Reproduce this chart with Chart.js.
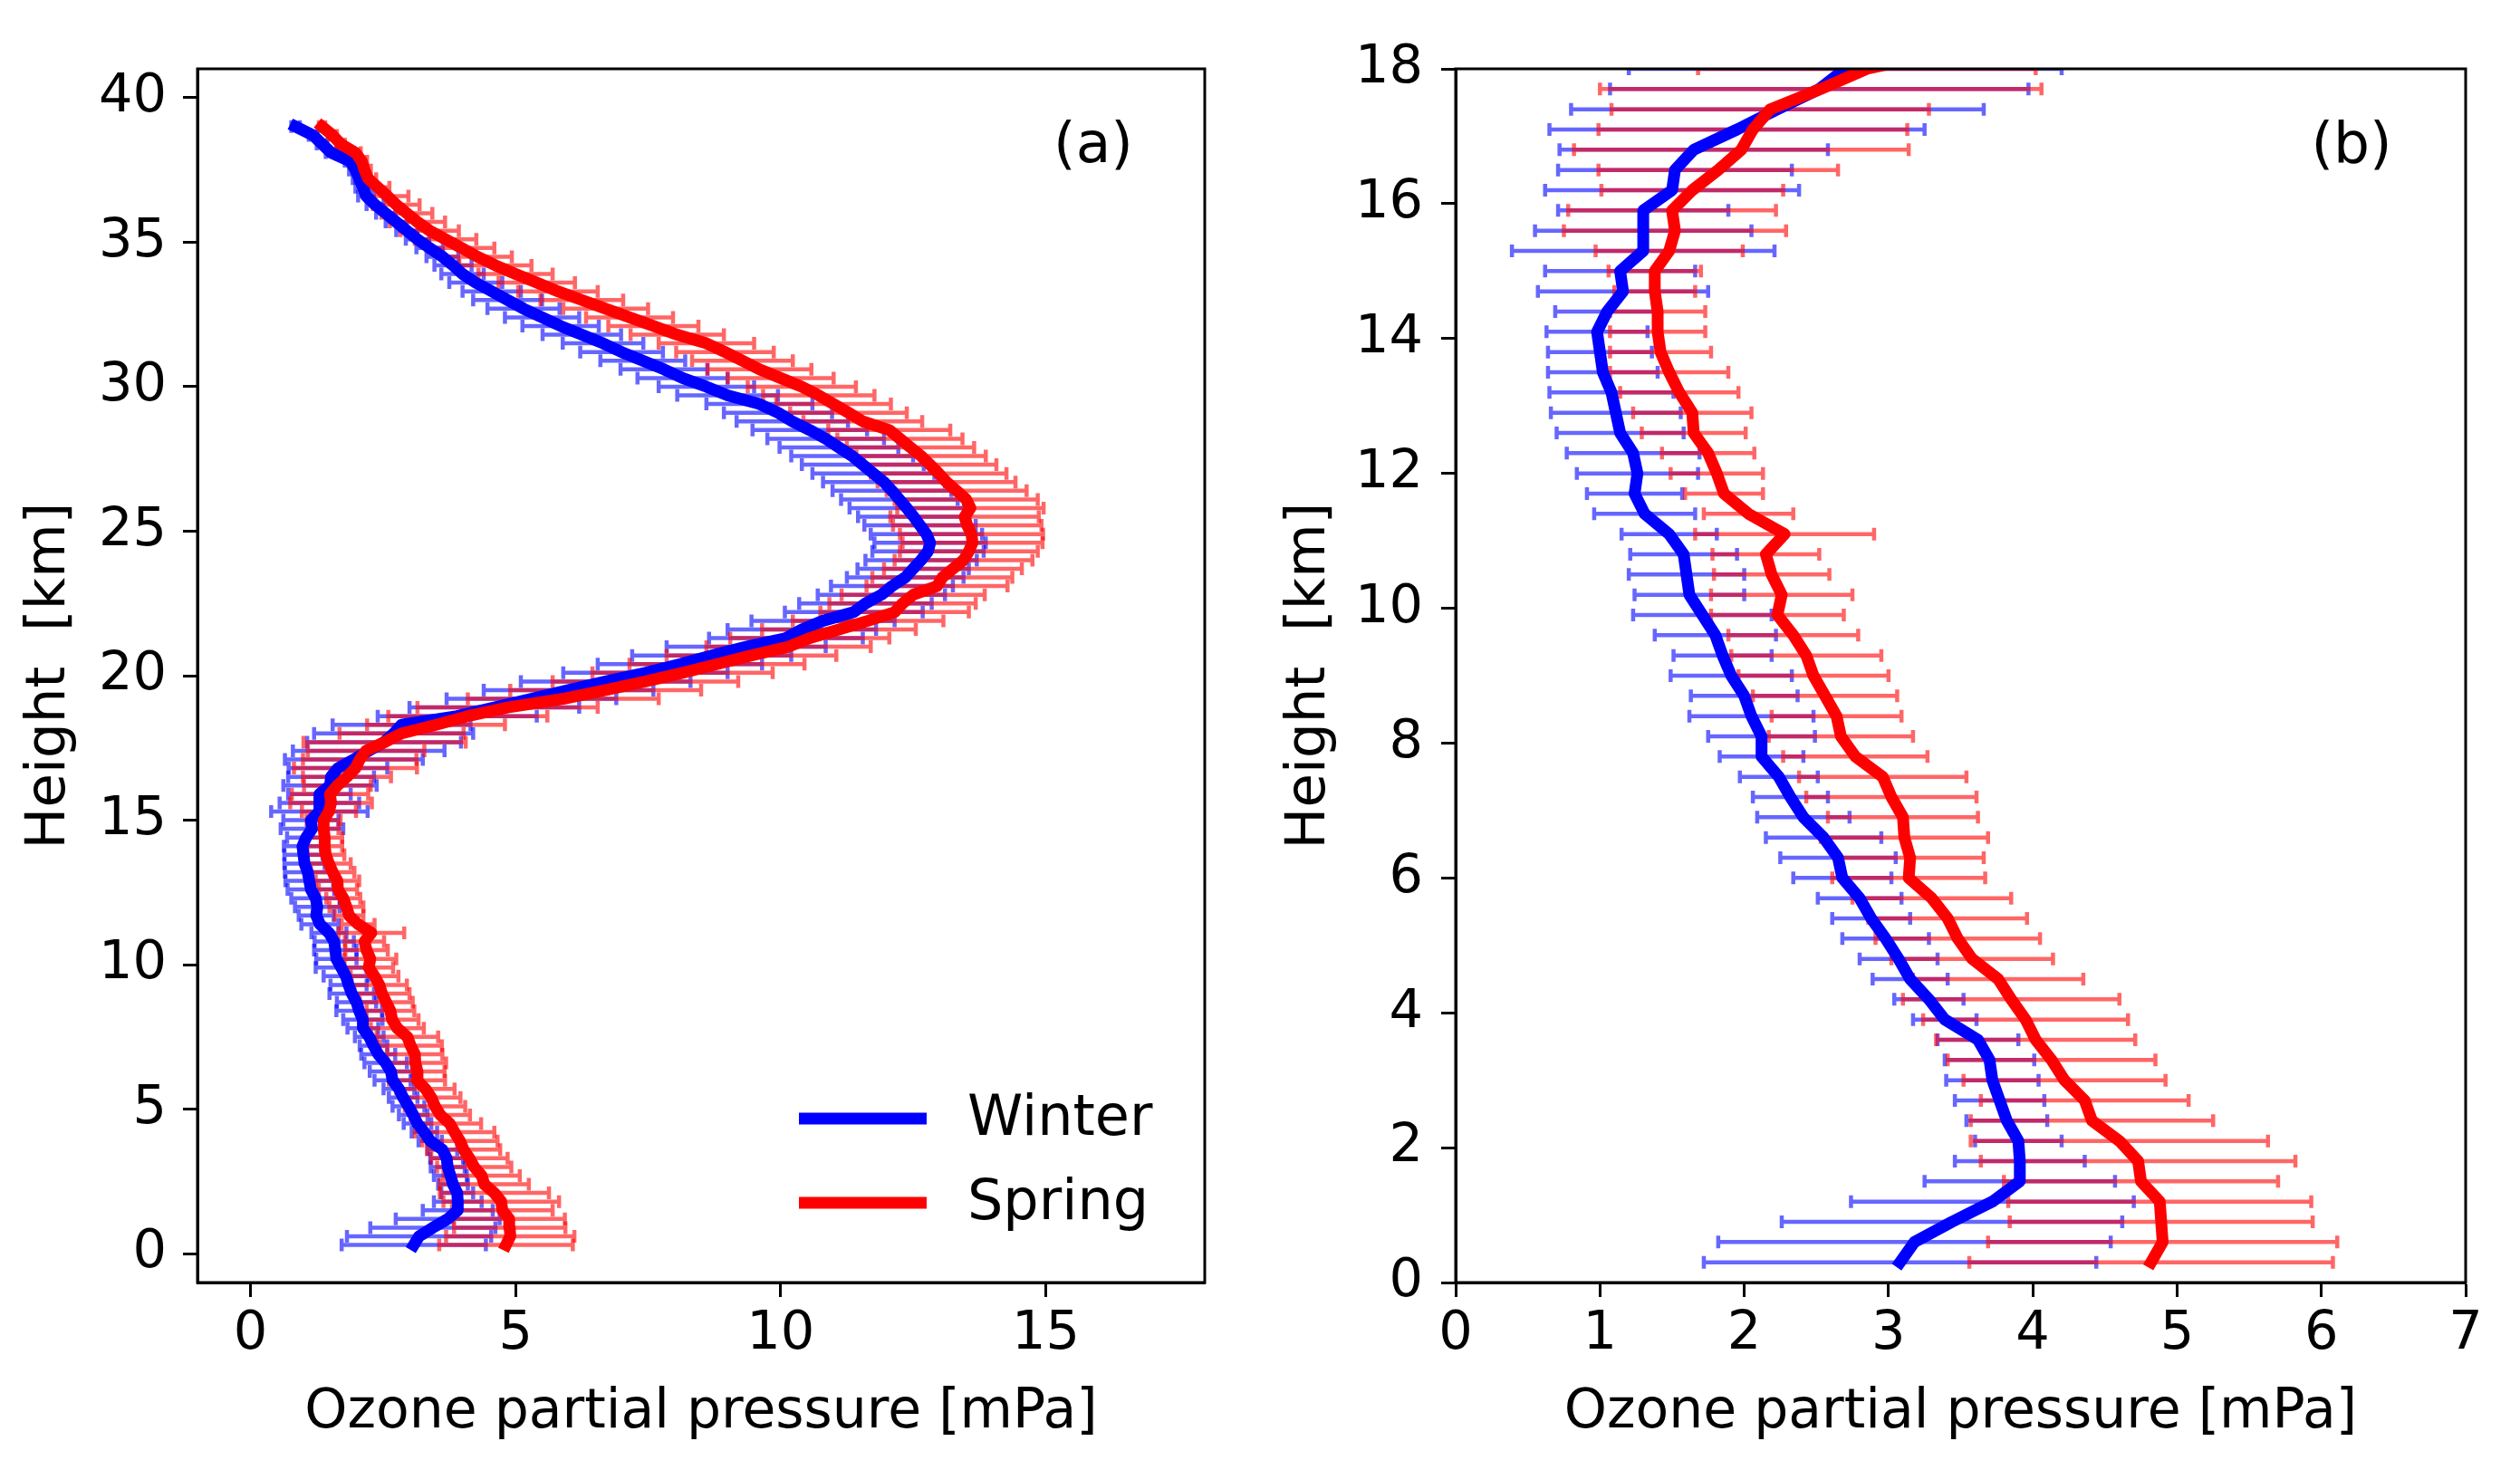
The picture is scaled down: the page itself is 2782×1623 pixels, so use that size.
<!DOCTYPE html>
<html>
<head>
<meta charset="utf-8">
<script src="https://cdn.jsdelivr.net/npm/chart.js@4.4.0/dist/chart.umd.min.js"></script>
<style>
  html, body { margin: 0; padding: 0; background: #fff; }
  #wrap { position: relative; width: 2782px; height: 1623px; background: #fff; }
  #wrap canvas { position: absolute; top: 0; }
</style>
</head>
<body>
<div id="wrap">
  <canvas id="chartA" width="1391" height="1623" style="left:0px"></canvas>
  <canvas id="chartB" width="1391" height="1623" style="left:1391px"></canvas>
</div>
<script>
// heights of the profile levels [km]
const heights = [
  0.3, 0.6, 0.9, 1.2, 1.5, 1.8, 2.1, 2.4, 2.7, 3.0,
  3.3, 3.6, 3.9, 4.2, 4.5, 4.8, 5.1, 5.4, 5.7, 6.0,
  6.3, 6.6, 6.9, 7.2, 7.5, 7.8, 8.1, 8.4, 8.7, 9.0,
  9.3, 9.6, 9.9, 10.2, 10.5, 10.8, 11.1, 11.4, 11.7, 12.0,
  12.3, 12.6, 12.9, 13.2, 13.5, 13.8, 14.1, 14.4, 14.7, 15.0,
  15.3, 15.6, 15.9, 16.2, 16.5, 16.8, 17.1, 17.4, 17.7, 18.0,
  18.3, 18.6, 18.9, 19.2, 19.5, 19.8, 20.1, 20.4, 20.7, 21.0,
  21.3, 21.6, 21.9, 22.2, 22.5, 22.8, 23.1, 23.4, 23.7, 24.0,
  24.3, 24.6, 24.9, 25.2, 25.5, 25.8, 26.1, 26.4, 26.7, 27.0,
  27.3, 27.6, 27.9, 28.2, 28.5, 28.8, 29.1, 29.4, 29.7, 30.0,
  30.3, 30.6, 30.9, 31.2, 31.5, 31.8, 32.1, 32.4, 32.7, 33.0,
  33.3, 33.6, 33.9, 34.2, 34.5, 34.8, 35.1, 35.4, 35.7, 36.0,
  36.3, 36.6, 36.9, 37.2, 37.5, 37.8, 38.1, 38.4, 38.7, 39.0
];

// winter mean ozone partial pressure [mPa]
const winterMean = [
  3.08, 3.18, 3.44, 3.72, 3.91, 3.91, 3.90, 3.82, 3.77, 3.72,
  3.70, 3.62, 3.39, 3.28, 3.15, 3.07, 2.98, 2.88, 2.80, 2.68,
  2.65, 2.55, 2.41, 2.32, 2.24, 2.12, 2.12, 2.05, 2.00, 1.91,
  1.85, 1.80, 1.71, 1.62, 1.60, 1.58, 1.48, 1.31, 1.24, 1.26,
  1.23, 1.14, 1.11, 1.08, 1.02, 1.00, 0.98, 1.05, 1.16, 1.14,
  1.30, 1.30, 1.30, 1.50, 1.52, 1.65, 1.95, 2.23, 2.52, 2.70,
  2.85, 3.90, 4.60, 5.30, 6.00, 6.70, 7.45, 8.10, 8.70, 9.35,
  10.10, 10.40, 10.80, 11.38, 11.60, 11.90, 12.10, 12.35, 12.50, 12.65,
  12.78, 12.82, 12.75, 12.63, 12.51, 12.38, 12.24, 12.10, 11.95, 11.75,
  11.55, 11.35, 11.10, 10.85, 10.55, 10.22, 9.95, 9.60, 9.00, 8.60,
  8.15, 7.80, 7.40, 7.00, 6.65, 6.25, 5.85, 5.50, 5.15, 4.85,
  4.55, 4.25, 4.00, 3.82, 3.62, 3.38, 3.15, 2.95, 2.75, 2.55,
  2.35, 2.18, 2.12, 2.05, 1.98, 1.88, 1.52, 1.35, 1.18, 0.85
];

// winter standard deviation [mPa]
const winterSd = [
  1.36, 1.36, 1.18, 0.98, 0.66, 0.45, 0.30, 0.28, 0.31, 0.32,
  0.31, 0.28, 0.22, 0.24, 0.26, 0.27, 0.30, 0.27, 0.29, 0.34,
  0.40, 0.40, 0.32, 0.26, 0.27, 0.29, 0.37, 0.43, 0.37, 0.42,
  0.34, 0.42, 0.48, 0.38, 0.40, 0.37, 0.33, 0.35, 0.33, 0.42,
  0.46, 0.44, 0.45, 0.43, 0.38, 0.36, 0.35, 0.36, 0.59, 0.52,
  0.91, 0.75, 0.59, 0.88, 0.81, 0.93, 1.30, 1.43, 1.45, 1.50,
  1.30, 1.50, 1.60, 1.60, 1.60, 1.60, 1.55, 1.55, 1.50, 1.50,
  1.45, 1.40, 1.35, 1.30, 1.25, 1.20, 1.15, 1.10, 1.05, 1.05,
  1.05, 1.05, 1.05, 1.05, 1.05, 1.08, 1.10, 1.12, 1.15, 1.15,
  1.15, 1.15, 1.12, 1.10, 1.08, 1.05, 1.02, 1.00, 0.95, 0.90,
  0.85, 0.82, 0.80, 0.78, 0.76, 0.74, 0.72, 0.70, 0.68, 0.65,
  0.55, 0.50, 0.40, 0.35, 0.30, 0.25, 0.22, 0.20, 0.20, 0.18,
  0.16, 0.15, 0.14, 0.12, 0.12, 0.10, 0.10, 0.10, 0.08, 0.08
];

// spring mean ozone partial pressure [mPa]
const springMean = [
  4.82, 4.90, 4.89, 4.88, 4.75, 4.73, 4.60, 4.41, 4.36, 4.22,
  4.13, 4.02, 3.95, 3.85, 3.76, 3.58, 3.48, 3.41, 3.30, 3.14,
  3.15, 3.11, 3.10, 3.02, 2.96, 2.77, 2.67, 2.64, 2.56, 2.48,
  2.43, 2.34, 2.23, 2.26, 2.19, 2.15, 2.28, 2.03, 1.86, 1.81,
  1.75, 1.65, 1.64, 1.55, 1.48, 1.42, 1.40, 1.40, 1.38, 1.38,
  1.48, 1.52, 1.50, 1.64, 1.82, 1.98, 2.06, 2.18, 2.53, 2.85,
  3.50, 4.10, 4.85, 5.90, 6.70, 7.45, 8.15, 8.80, 9.45, 10.15,
  10.55, 11.10, 11.65, 12.15, 12.30, 12.50, 12.95, 13.05, 13.25, 13.45,
  13.55, 13.62, 13.60, 13.52, 13.47, 13.58, 13.50, 13.32, 13.13, 12.98,
  12.82, 12.65, 12.45, 12.25, 12.05, 11.55, 11.28, 11.00, 10.72, 10.40,
  10.00, 9.60, 9.28, 8.95, 8.60, 8.05, 7.60, 7.15, 6.70, 6.25,
  5.80, 5.40, 5.00, 4.62, 4.28, 3.98, 3.68, 3.38, 3.15, 2.95,
  2.75, 2.58, 2.40, 2.22, 2.15, 2.10, 1.98, 1.70, 1.55, 1.35
];

// spring standard deviation [mPa]
const springSd = [
  1.26, 1.21, 1.05, 1.05, 0.95, 1.09, 1.03, 0.84, 0.72, 0.70,
  0.72, 0.69, 0.71, 0.75, 0.59, 0.56, 0.57, 0.55, 0.55, 0.53,
  0.51, 0.58, 0.52, 0.59, 0.58, 0.50, 0.50, 0.45, 0.50, 0.52,
  0.52, 0.45, 0.46, 0.49, 0.40, 0.37, 0.62, 0.31, 0.27, 0.32,
  0.32, 0.36, 0.41, 0.41, 0.41, 0.35, 0.33, 0.33, 0.28, 0.32,
  0.51, 0.77, 0.72, 0.63, 0.83, 1.16, 1.07, 1.10, 1.53, 1.17,
  1.30, 1.50, 1.70, 1.80, 1.80, 1.75, 1.70, 1.65, 1.60, 1.55,
  1.50, 1.45, 1.42, 1.40, 1.38, 1.35, 1.33, 1.32, 1.30, 1.30,
  1.30, 1.32, 1.35, 1.40, 1.40, 1.38, 1.35, 1.32, 1.30, 1.28,
  1.25, 1.22, 1.20, 1.18, 1.15, 1.12, 1.10, 1.08, 1.05, 1.02,
  1.00, 0.98, 0.95, 0.92, 0.90, 0.88, 0.85, 0.82, 0.80, 0.78,
  0.75, 0.72, 0.70, 0.68, 0.65, 0.62, 0.58, 0.55, 0.52, 0.48,
  0.44, 0.40, 0.22, 0.15, 0.12, 0.10, 0.10, 0.08, 0.08, 0.06
];

const seriesNames = ['Winter', 'Spring'];
const xTicksA = [0, 5, 10, 15];
const yTicksA = [0, 5, 10, 15, 20, 25, 30, 35, 40];
const xTicksB = [0, 1, 2, 3, 4, 5, 6, 7];
const yTicksB = [0, 2, 4, 6, 8, 10, 12, 14, 16, 18];
const xTitle = 'Ozone partial pressure [mPa]';
const yTitle = 'Height  [km]';

const FONT = "'DejaVu Sans', 'Liberation Sans', sans-serif";

function profile(means) {
  return heights.map((h, i) => ({ x: means[i], y: h }));
}

// horizontal error bars with caps, drawn under the mean profiles
const errorBars = {
  id: 'errorBars',
  beforeDatasetsDraw(chart) {
    const { ctx, chartArea: a } = chart;
    const xs = chart.scales.x, ys = chart.scales.y;
    ctx.save();
    ctx.beginPath();
    ctx.rect(a.left, a.top, a.right - a.left, a.bottom - a.top);
    ctx.clip();
    ctx.lineWidth = 4.5;
    ctx.lineCap = 'butt';
    chart.data.datasets.forEach(ds => {
      ctx.strokeStyle = ds.barColor;
      ds.errors.forEach((s, i) => {
        const py = ys.getPixelForValue(ds.data[i].y);
        const x1 = xs.getPixelForValue(ds.data[i].x - s);
        const x2 = xs.getPixelForValue(ds.data[i].x + s);
        ctx.beginPath();
        ctx.moveTo(x1, py); ctx.lineTo(x2, py);
        ctx.moveTo(x1, py - 7); ctx.lineTo(x1, py + 7);
        ctx.moveTo(x2, py - 7); ctx.lineTo(x2, py + 7);
        ctx.stroke();
      });
    });
    ctx.restore();
  }
};

// box, panel letter and legend
const decorations = {
  id: 'decorations',
  afterDraw(chart, args, opts) {
    const { ctx, chartArea: a } = chart;
    ctx.save();
    ctx.strokeStyle = '#000';
    ctx.lineWidth = 3;
    ctx.strokeRect(a.left, a.top, a.right - a.left, a.bottom - a.top);

    ctx.fillStyle = '#000';
    ctx.font = '63px ' + FONT;
    ctx.textAlign = 'center';
    ctx.textBaseline = 'middle';
    ctx.fillText(opts.panel, a.right - opts.panelDx, a.top + 87);

    if (opts.legend) {
      ctx.textAlign = 'left';
      ctx.font = '62px ' + FONT;
      chart.data.datasets.forEach((ds, i) => {
        const ly = a.bottom - 181 + i * 93;
        ctx.strokeStyle = ds.borderColor;
        ctx.lineWidth = 13;
        ctx.lineCap = 'butt';
        ctx.beginPath();
        ctx.moveTo(a.right - 448, ly);
        ctx.lineTo(a.right - 307, ly);
        ctx.stroke();
        ctx.fillStyle = '#000';
        ctx.fillText(ds.label, a.right - 262, ly + 2);
      });
    }
    ctx.restore();
  }
};

function makeDatasets() {
  return [
    {
      label: seriesNames[0],
      data: profile(winterMean),
      errors: winterSd,
      borderColor: '#0000ff',
      barColor: 'rgba(0, 0, 255, 0.6)',
      order: 1
    },
    {
      label: seriesNames[1],
      data: profile(springMean),
      errors: springSd,
      borderColor: '#ff0000',
      barColor: 'rgba(255, 0, 0, 0.6)',
      order: 0
    }
  ].map(d => Object.assign(d, {
    showLine: true,
    borderWidth: 13,
    pointRadius: 0,
    tension: 0,
    borderJoinStyle: 'round',
    borderCapStyle: 'square',
    clip: 0
  }));
}

function makeOptions(cfg) {
  const grid = {
    display: true, drawOnChartArea: false, drawTicks: true,
    tickLength: 16, tickWidth: 3, tickColor: '#000'
  };
  const border = { display: true, color: '#000', width: 3 };
  const tickFont = { family: FONT, size: 59 };
  return {
    responsive: false,
    animation: false,
    devicePixelRatio: 1,
    events: [],
    layout: { padding: { top: 76, right: cfg.padRight, bottom: 0, left: 0 } },
    plugins: {
      legend: { display: false },
      tooltip: { enabled: false },
      decorations: { panel: cfg.panel, panelDx: cfg.panelDx, legend: cfg.legend }
    },
    scales: {
      x: {
        type: 'linear', position: 'bottom',
        min: cfg.xMin, max: cfg.xMax,
        afterBuildTicks: s => { s.ticks = cfg.xTicks.map(v => ({ value: v })); },
        afterFit: s => { s.height = 207; },
        ticks: { font: tickFont, color: '#000', padding: 6, maxRotation: 0, autoSkip: false, callback: v => String(v) },
        grid: grid, border: border,
        title: { display: true, text: xTitle, color: '#000', font: { family: FONT, size: 60 }, padding: { top: 0, bottom: 27 } }
      },
      y: {
        type: 'linear', position: 'left',
        min: cfg.yMin, max: cfg.yMax,
        afterBuildTicks: s => { s.ticks = cfg.yTicks.map(v => ({ value: v })); },
        afterFit: s => { s.width = cfg.yWidth; },
        ticks: { font: tickFont, color: '#000', padding: cfg.yPad, autoSkip: false, callback: v => String(v) },
        grid: grid, border: border,
        title: { display: true, text: yTitle, color: '#000', font: { family: FONT, size: 61 }, padding: { top: 19, bottom: 0 } }
      }
    }
  };
}

Chart.register(errorBars, decorations);

new Chart(document.getElementById('chartA'), {
  type: 'scatter',
  data: { datasets: makeDatasets() },
  options: makeOptions({
    xMin: -1, xMax: 18, xTicks: xTicksA,
    yMin: -1, yMax: 41, yTicks: yTicksA,
    yWidth: 218, yPad: 18, padRight: 61,
    panel: '(a)', panelDx: 123, legend: true
  })
});

new Chart(document.getElementById('chartB'), {
  type: 'scatter',
  data: { datasets: makeDatasets() },
  options: makeOptions({
    xMin: 0, xMax: 7, xTicks: xTicksB,
    yMin: 0, yMax: 18, yTicks: yTicksB,
    yWidth: 216, yPad: 20, padRight: 60,
    panel: '(b)', panelDx: 126, legend: false
  })
});
</script>
</body>
</html>
